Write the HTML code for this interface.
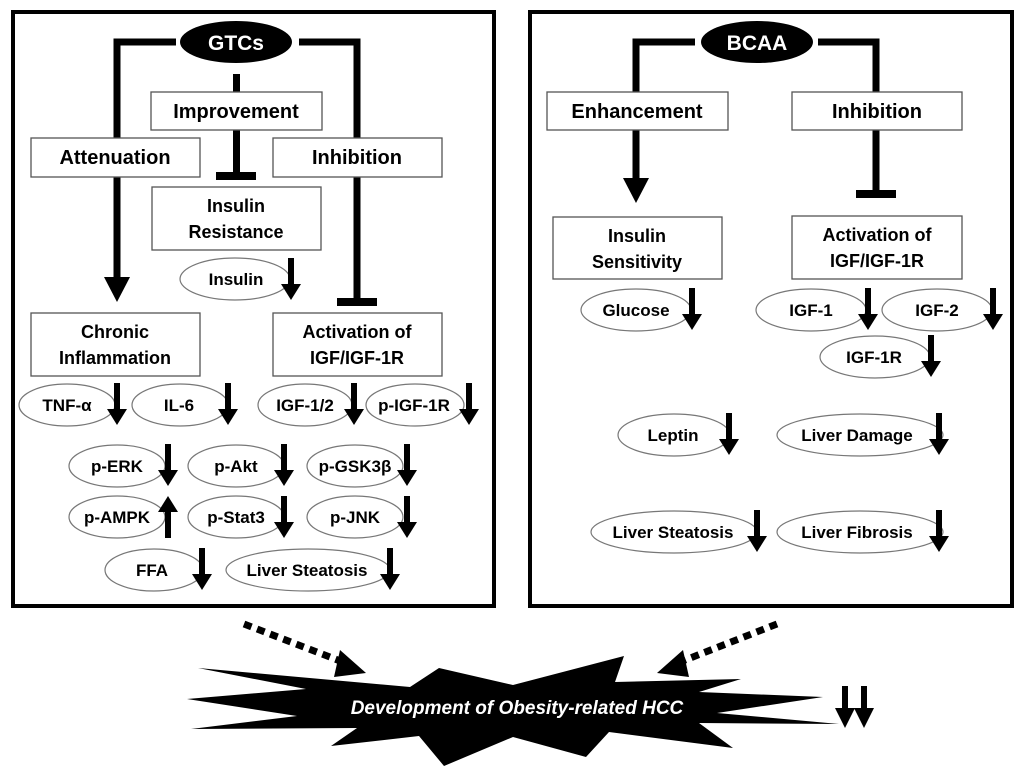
<!DOCTYPE html>
<html><head><meta charset="utf-8"><style>
html,body{margin:0;padding:0;background:#fff;width:1024px;height:777px;overflow:hidden}
svg{display:block}
text{font-family:"Liberation Sans",Arial,sans-serif;font-weight:bold;fill:#000}
.b{fill:#fff;stroke:#555;stroke-width:1.3}
.e{fill:#fff;stroke:#777;stroke-width:1.2}
.t{font-size:20px}
.s{font-size:17px}
</style></head><body>
<svg width="1024" height="777" viewBox="0 0 1024 777" xmlns="http://www.w3.org/2000/svg">
<defs>
<path id="da" d="M-3 0 H3 V26 H10 L0 42 L-10 26 H-3 Z" fill="#000"/>
</defs>
<!-- panels -->
<rect x="13" y="12" width="481" height="594" fill="none" stroke="#000" stroke-width="4"/>
<rect x="530" y="12" width="482" height="594" fill="none" stroke="#000" stroke-width="4"/>

<!-- LEFT connectors -->
<path d="M176 42 H117 V278" fill="none" stroke="#000" stroke-width="7"/>
<polygon points="104,277 130,277 117,302" fill="#000"/>
<path d="M299 42 H357 V300" fill="none" stroke="#000" stroke-width="7"/>
<rect x="337" y="298" width="40" height="8" fill="#000"/>
<rect x="233" y="74" width="7" height="20" fill="#000"/>
<rect x="233" y="128" width="7" height="46" fill="#000"/>
<rect x="216" y="172" width="40" height="8" fill="#000"/>

<ellipse cx="236" cy="42" rx="56" ry="21" fill="#000"/>
<text x="236" y="50" text-anchor="middle" style="font-size:21px;fill:#fff">GTCs</text>

<rect class="b" x="151" y="92" width="171" height="38"/>
<text class="t" x="236" y="118" text-anchor="middle">Improvement</text>
<rect class="b" x="31" y="138" width="169" height="39"/>
<text class="t" x="115" y="164" text-anchor="middle">Attenuation</text>
<rect class="b" x="273" y="138" width="169" height="39"/>
<text class="t" x="357" y="164" text-anchor="middle">Inhibition</text>
<rect class="b" x="152" y="187" width="169" height="63"/>
<text class="s" x="236" y="212" text-anchor="middle" style="font-size:18px">Insulin</text>
<text class="s" x="236" y="238" text-anchor="middle" style="font-size:18px">Resistance</text>
<ellipse class="e" cx="235" cy="279" rx="55" ry="21"/>
<text class="s" x="236" y="285" text-anchor="middle">Insulin</text>
<use href="#da" x="291" y="258"/>

<rect class="b" x="31" y="313" width="169" height="63"/>
<text x="115" y="338" text-anchor="middle" style="font-size:18px">Chronic</text>
<text x="115" y="364" text-anchor="middle" style="font-size:18px">Inflammation</text>
<rect class="b" x="273" y="313" width="169" height="63"/>
<text x="357" y="338" text-anchor="middle" style="font-size:18px">Activation of</text>
<text x="357" y="364" text-anchor="middle" style="font-size:18px">IGF/IGF-1R</text>

<!-- row1 -->
<ellipse class="e" cx="67" cy="405" rx="48" ry="21"/><text class="s" x="67" y="411" text-anchor="middle">TNF-α</text><use href="#da" x="117" y="383"/>
<ellipse class="e" cx="180" cy="405" rx="48" ry="21"/><text class="s" x="179" y="411" text-anchor="middle">IL-6</text><use href="#da" x="228" y="383"/>
<ellipse class="e" cx="305" cy="405" rx="47" ry="21"/><text class="s" x="305" y="411" text-anchor="middle">IGF-1/2</text><use href="#da" x="354" y="383"/>
<ellipse class="e" cx="415" cy="405" rx="49" ry="21"/><text class="s" x="414" y="411" text-anchor="middle">p-IGF-1R</text><use href="#da" x="469" y="383"/>
<!-- row2 -->
<ellipse class="e" cx="117" cy="466" rx="48" ry="21"/><text class="s" x="117" y="472" text-anchor="middle">p-ERK</text><use href="#da" x="168" y="444"/>
<ellipse class="e" cx="236" cy="466" rx="48" ry="21"/><text class="s" x="236" y="472" text-anchor="middle">p-Akt</text><use href="#da" x="284" y="444"/>
<ellipse class="e" cx="355" cy="466" rx="48" ry="21"/><text class="s" x="355" y="472" text-anchor="middle">p-GSK3β</text><use href="#da" x="407" y="444"/>
<!-- row3 -->
<ellipse class="e" cx="117" cy="517" rx="48" ry="21"/><text class="s" x="117" y="523" text-anchor="middle">p-AMPK</text><use href="#da" transform="translate(168 538) scale(1 -1)"/>
<ellipse class="e" cx="236" cy="517" rx="48" ry="21"/><text class="s" x="236" y="523" text-anchor="middle">p-Stat3</text><use href="#da" x="284" y="496"/>
<ellipse class="e" cx="355" cy="517" rx="48" ry="21"/><text class="s" x="355" y="523" text-anchor="middle">p-JNK</text><use href="#da" x="407" y="496"/>
<!-- row4 -->
<ellipse class="e" cx="154" cy="570" rx="49" ry="21"/><text class="s" x="152" y="576" text-anchor="middle">FFA</text><use href="#da" x="202" y="548"/>
<ellipse class="e" cx="308" cy="570" rx="82" ry="21"/><text class="s" x="307" y="576" text-anchor="middle">Liver Steatosis</text><use href="#da" x="390" y="548"/>

<!-- RIGHT -->
<path d="M695 42 H636 V180" fill="none" stroke="#000" stroke-width="7"/>
<polygon points="623,178 649,178 636,203" fill="#000"/>
<path d="M818 42 H876 V192" fill="none" stroke="#000" stroke-width="7"/>
<rect x="856" y="190" width="40" height="8" fill="#000"/>
<ellipse cx="757" cy="42" rx="56" ry="21" fill="#000"/>
<text x="757" y="50" text-anchor="middle" style="font-size:21px;fill:#fff">BCAA</text>

<rect class="b" x="547" y="92" width="181" height="38"/>
<text class="t" x="637" y="118" text-anchor="middle">Enhancement</text>
<rect class="b" x="792" y="92" width="170" height="38"/>
<text class="t" x="877" y="118" text-anchor="middle">Inhibition</text>
<rect class="b" x="553" y="217" width="169" height="62"/>
<text x="637" y="242" text-anchor="middle" style="font-size:18px">Insulin</text>
<text x="637" y="268" text-anchor="middle" style="font-size:18px">Sensitivity</text>
<rect class="b" x="792" y="216" width="170" height="63"/>
<text x="877" y="241" text-anchor="middle" style="font-size:18px">Activation of</text>
<text x="877" y="267" text-anchor="middle" style="font-size:18px">IGF/IGF-1R</text>

<ellipse class="e" cx="636" cy="310" rx="55" ry="21"/><text class="s" x="636" y="316" text-anchor="middle">Glucose</text><use href="#da" x="692" y="288"/>
<ellipse class="e" cx="811" cy="310" rx="55" ry="21"/><text class="s" x="811" y="316" text-anchor="middle">IGF-1</text><use href="#da" x="868" y="288"/>
<ellipse class="e" cx="937" cy="310" rx="55" ry="21"/><text class="s" x="937" y="316" text-anchor="middle">IGF-2</text><use href="#da" x="993" y="288"/>
<ellipse class="e" cx="875" cy="357" rx="55" ry="21"/><text class="s" x="874" y="363" text-anchor="middle">IGF-1R</text><use href="#da" x="931" y="335"/>
<ellipse class="e" cx="674" cy="435" rx="56" ry="21"/><text class="s" x="673" y="441" text-anchor="middle">Leptin</text><use href="#da" x="729" y="413"/>
<ellipse class="e" cx="860" cy="435" rx="83" ry="21"/><text class="s" x="857" y="441" text-anchor="middle">Liver Damage</text><use href="#da" x="939" y="413"/>
<ellipse class="e" cx="674" cy="532" rx="83" ry="21"/><text class="s" x="673" y="538" text-anchor="middle">Liver Steatosis</text><use href="#da" x="757" y="510"/>
<ellipse class="e" cx="860" cy="532" rx="83" ry="21"/><text class="s" x="857" y="538" text-anchor="middle">Liver Fibrosis</text><use href="#da" x="939" y="510"/>

<!-- bottom -->
<line x1="244" y1="624" x2="348" y2="664" stroke="#000" stroke-width="7" stroke-dasharray="8 6"/>
<polygon points="340,650 366,673 334,677" fill="#000"/>
<line x1="777" y1="624" x2="675" y2="664" stroke="#000" stroke-width="7" stroke-dasharray="8 6"/>
<polygon points="683,650 657,673 689,677" fill="#000"/>

<polygon fill="#000" points="198,668 410,687 439,668 513,685 624,656 615,682 741,679 699,692 823,697 717,713 839,724 699,723 733,748 609,732 586,757 513,737 444,766 419,736 331,746 357,728 191,729 297,716 187,699 306,689"/>
<text x="517" y="714" text-anchor="middle" style="font-size:19px;font-style:italic;fill:#fff">Development of Obesity-related HCC</text>

<path d="M842 686 H848 V708 H855 L845 728 L835 708 H842 Z" fill="#000"/>
<path d="M861 686 H867 V708 H874 L864 728 L854 708 H861 Z" fill="#000"/>
</svg>
</body></html>
